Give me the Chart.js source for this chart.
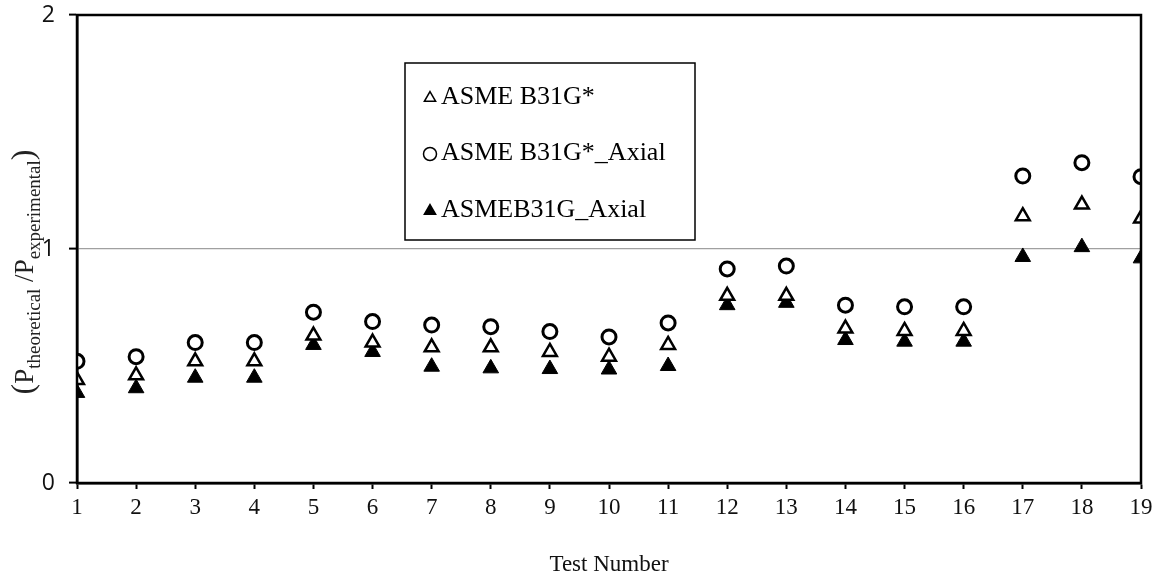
<!DOCTYPE html>
<html lang="en">
<head>
    <meta charset="UTF-8">
    <title>Pressure ratio by test</title>
    <script src="https://cdn.jsdelivr.net/npm/chart.js"></script>
    <style>
        body, html {
            margin: 0;
            padding: 0;
            background-color: white;
        }
        .chart-container {
            position: relative;
            width: 1157px;
            height: 583px;
        }
    </style>
</head>
<body>
    <div class="chart-container">
        <canvas id="ratioChart" width="1157" height="583"></canvas>
    </div>

    <script>
        // Data
        const testNumbers = [1, 2, 3, 4, 5, 6, 7, 8, 9, 10, 11, 12, 13, 14, 15, 16, 17, 18, 19];
        const b31gStar = [0.44, 0.46, 0.52, 0.52, 0.63, 0.60, 0.58, 0.58, 0.56, 0.54, 0.59, 0.80, 0.80, 0.66, 0.65, 0.65, 1.14, 1.19, 1.13];
        const b31gStarAxial = [0.52, 0.54, 0.60, 0.60, 0.73, 0.69, 0.675, 0.668, 0.647, 0.624, 0.684, 0.915, 0.927, 0.76, 0.753, 0.753, 1.312, 1.369, 1.309];
        const b31gAxial = [0.385, 0.405, 0.45, 0.45, 0.59, 0.56, 0.497, 0.49, 0.487, 0.485, 0.50, 0.76, 0.77, 0.611, 0.604, 0.604, 0.966, 1.008, 0.96];
        const seriesLabels = ['ASME B31G*', 'ASME B31G*_Axial', 'ASMEB31G_Axial'];
        const yTicks = [0, 1, 2];

        const toPoints = vals => vals.map((v, i) => ({ x: testNumbers[i], y: v }));

        // frame on top and right
        const framePlugin = {
            id: 'frame',
            afterDraw(chart) {
                const a = chart.chartArea;
                const c = chart.ctx;
                c.save();
                c.strokeStyle = '#000';
                c.lineWidth = 2.5;
                c.strokeRect(a.left, a.top, a.right - a.left, a.bottom - a.top);
                c.restore();
            }
        };

        // y title with subscripts
        const yTitlePlugin = {
            id: 'yTitle',
            afterDraw(chart) {
                const c = chart.ctx;
                const parts = [
                    ['(', 32, 0],
                    ['P', 27, 0],
                    ['theoretical', 19, 7],
                    [' /P', 27, 0],
                    ['experimental', 19, 7],
                    [')', 32, 0]
                ];
                c.save();
                c.fillStyle = '#222';
                c.textBaseline = 'alphabetic';
                let total = 0;
                parts.forEach(p => {
                    c.font = p[1] + 'px "Liberation Serif", serif';
                    total += c.measureText(p[0]).width;
                });
                c.translate(33, 272);
                c.rotate(-Math.PI / 2);
                let x = -total / 2;
                parts.forEach(p => {
                    c.font = p[1] + 'px "Liberation Serif", serif';
                    c.fillText(p[0], x, p[2]);
                    x += c.measureText(p[0]).width;
                });
                c.restore();
            }
        };

        // boxed legend inside the plot
        const legendPlugin = {
            id: 'boxLegend',
            afterDraw(chart) {
                const c = chart.ctx;
                c.save();
                c.fillStyle = '#fff';
                c.fillRect(405, 63, 290, 177);
                c.strokeStyle = '#000';
                c.lineWidth = 1.5;
                c.strokeRect(405, 63, 290, 177);
                const rows = [97, 153, 210];
                chart.data.datasets.forEach((ds, i) => {
                    c.fillStyle = ds.backgroundColor;
                    c.strokeStyle = '#000';
                    Chart.helpers.drawPoint(c, {
                        pointStyle: ds.pointStyle,
                        radius: 6.5,
                        borderWidth: 2.5
                    }, 430, rows[i] + 1);
                    c.fillStyle = '#000';
                    c.font = '26px "Liberation Serif", serif';
                    c.textBaseline = 'middle';
                    c.fillText(ds.label, 441, rows[i]);
                });
                c.restore();
            }
        };

        const ctx = document.getElementById('ratioChart').getContext('2d');
        const ratioChart = new Chart(ctx, {
            type: 'scatter',
            data: {
                datasets: [
                    {
                        label: seriesLabels[0],
                        data: toPoints(b31gStar),
                        pointStyle: 'triangle',
                        pointRadius: 8,
                        borderWidth: 2.5,
                        borderColor: '#000',
                        backgroundColor: '#fff'
                    },
                    {
                        label: seriesLabels[1],
                        data: toPoints(b31gStarAxial),
                        pointStyle: 'circle',
                        pointRadius: 7,
                        borderWidth: 3,
                        borderColor: '#000',
                        backgroundColor: '#fff'
                    },
                    {
                        label: seriesLabels[2],
                        data: toPoints(b31gAxial),
                        pointStyle: 'triangle',
                        pointRadius: 9,
                        borderWidth: 1,
                        borderColor: '#000',
                        backgroundColor: '#000'
                    }
                ]
            },
            options: {
                responsive: false,
                animation: false,
                layout: {
                    padding: { left: 0, top: 15, right: 16, bottom: 0 }
                },
                scales: {
                    x: {
                        type: 'linear',
                        min: 1,
                        max: 19,
                        afterFit: s => { s.height = 100; s.paddingRight = 0; s.paddingLeft = 0; },
                        afterBuildTicks: s => { s.ticks = testNumbers.map(v => ({ value: v })); },
                        ticks: {
                            color: '#111',
                            padding: 5,
                            autoSkip: false,
                            maxRotation: 0,
                            font: { family: '"Liberation Serif", serif', size: 23 }
                        },
                        grid: {
                            drawOnChartArea: false,
                            tickColor: '#000',
                            tickLength: 6,
                            tickWidth: 2
                        },
                        border: { color: '#000', width: 2.5 },
                        title: {
                            display: true,
                            text: 'Test Number',
                            color: '#111',
                            padding: { top: 30 },
                            font: { family: '"Liberation Serif", serif', size: 23 }
                        }
                    },
                    y: {
                        min: 0,
                        max: 2,
                        afterFit: s => { s.width = 77; s.paddingTop = 0; s.paddingBottom = 0; },
                        afterBuildTicks: s => { s.ticks = yTicks.map(v => ({ value: v })); },
                        ticks: {
                            color: '#111',
                            padding: 14,
                            font: { family: '"Open Sans", sans-serif', size: 23 }
                        },
                        grid: {
                            color: c => (c.tick && c.tick.value === 1) ? '#a0a0a0' : 'rgba(0,0,0,0)',
                            lineWidth: 1.2,
                            tickColor: '#000',
                            tickLength: 8,
                            tickWidth: 2
                        },
                        border: { color: '#000', width: 2.5 }
                    }
                },
                plugins: {
                    legend: { display: false },
                    tooltip: { enabled: false }
                }
            },
            plugins: [framePlugin, yTitlePlugin, legendPlugin]
        });
    </script>
</body>
</html>
